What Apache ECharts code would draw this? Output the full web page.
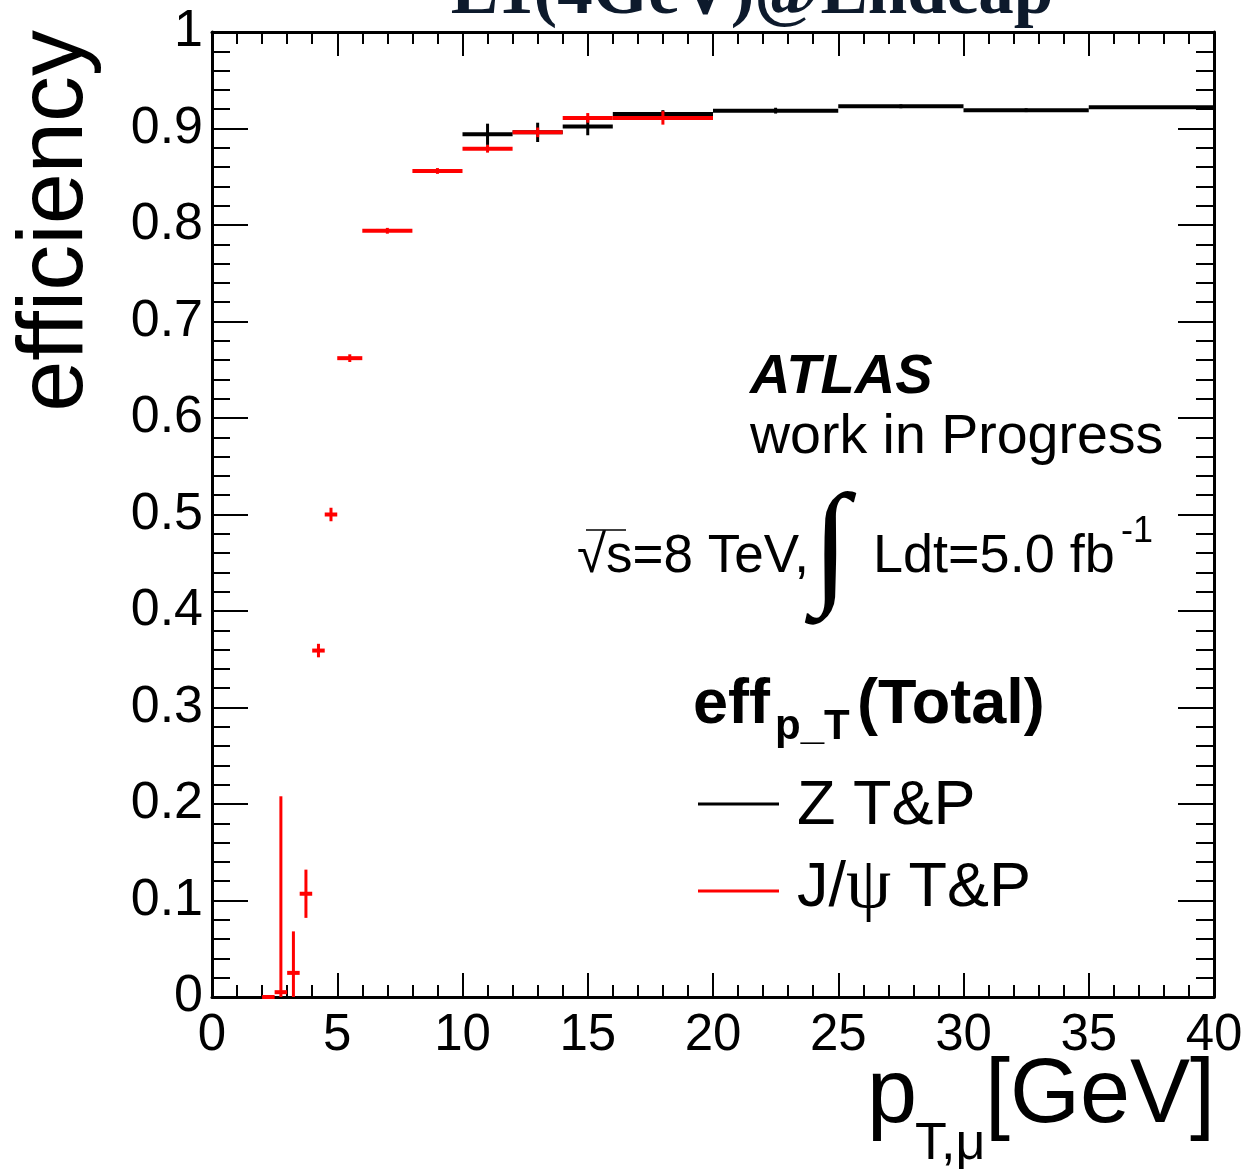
<!DOCTYPE html>
<html>
<head>
<meta charset="utf-8">
<script src="https://cdn.jsdelivr.net/npm/echarts@6/dist/echarts.min.js"></script>
<style>
html,body{margin:0;padding:0;background:#fff;}
#chart{width:1247px;height:1176px;}
</style>
</head>
<body>
<div id="chart"></div>
<script>
// ---- data ----
const xTicks = [0, 5, 10, 15, 20, 25, 30, 35, 40];
const yTicks = [0, 0.1, 0.2, 0.3, 0.4, 0.5, 0.6, 0.7, 0.8, 0.9, 1];

const zBinLo = [10, 12, 14, 16, 20, 25, 30, 35];
const zBinHi = [12, 14, 16, 20, 25, 30, 35, 40];
const zEff   = [0.894, 0.896, 0.902, 0.915, 0.9185, 0.923, 0.919, 0.922];
const zErr   = [0.011, 0.010, 0.009, 0.004, 0.003, 0.002, 0.002, 0.001];

const jBinLo = [2, 2.5, 3, 3.5, 4, 4.5, 5, 6, 8, 10, 12, 14, 16];
const jBinHi = [2.5, 3, 3.5, 4, 4.5, 5, 6, 8, 10, 12, 14, 16, 20];
const jEff   = [0.0, 0.005, 0.025, 0.107, 0.359, 0.500, 0.662, 0.794, 0.856, 0.879, 0.896, 0.911, 0.911];
const jErr   = [0.0, 0.203, 0.043, 0.025, 0.007, 0.007, 0.004, 0.003, 0.003, 0.004, 0.005, 0.005, 0.007];

const titleText = 'L1(4GeV)@Endcap';
const yTitle = 'efficiency';

// ---- helpers ----
const SANS = '"Liberation Sans", Arial, Helvetica, sans-serif';
const SERIF = '"Liberation Serif", "Times New Roman", serif';
function rows(lo, hi, v, e) { return lo.map((l, i) => [l, hi[i], v[i], e[i]]); }

function makeRender(color) {
  return function (params, api) {
    const lo = api.value(0), hi = api.value(1), v = api.value(2), e = api.value(3);
    const xc = (lo + hi) / 2;
    const a = api.coord([lo, v]), b = api.coord([hi, v]);
    const t = api.coord([xc, Math.min(1, v + e)]);
    const d = api.coord([xc, Math.max(0, v - e)]);
    const children = [
      { type: 'line', shape: { x1: a[0], y1: a[1], x2: b[0], y2: b[1] }, style: { stroke: color, lineWidth: 4 } }
    ];
    if (e > 0) {
      children.push({ type: 'line', shape: { x1: t[0], y1: t[1], x2: d[0], y2: d[1] }, style: { stroke: color, lineWidth: 3 } });
    }
    return { type: 'group', children: children };
  };
}

// text at baseline helper (verticalAlign middle -> shift by 0.3465*size)
function txt(str, x, baseline, size, opts) {
  opts = opts || {};
  return {
    type: 'text', x: x, y: baseline - 0.3465 * size, rotation: opts.rotation || 0, z: 100,
    style: {
      text: str,
      font: (opts.style || '') + ' ' + (opts.weight || 'normal') + ' ' + size + 'px ' + (opts.family || SANS),
      fill: opts.color || '#000',
      align: opts.align || 'left', textAlign: opts.align || 'left',
      verticalAlign: 'middle', textVerticalAlign: 'middle'
    }
  };
}

const chart = echarts.init(document.getElementById('chart'), null, { renderer: 'canvas' });

const tickCommon = {
  axisLine: { show: true, onZero: false, lineStyle: { color: '#000', width: 3 } },
  splitLine: { show: false },
  minorSplitLine: { show: false }
};

function xAx(pos, showLabel) {
  return Object.assign({}, tickCommon, {
    type: 'value', position: pos, min: 0, max: 40, interval: 5,
    axisTick: { show: true, inside: true, length: 24, lineStyle: { color: '#000', width: 2 } },
    minorTick: { show: true, splitNumber: 5, length: 12, lineStyle: { color: '#000', width: 2 } },
    axisLabel: { show: showLabel, fontSize: 51, fontFamily: SANS, color: '#000', margin: 13,
      formatter: function (v) { return xTicks.indexOf(v) >= 0 ? String(v) : ''; } }
  });
}
function yAx(pos, showLabel) {
  return Object.assign({}, tickCommon, {
    type: 'value', position: pos, min: 0, max: 1, interval: 0.1,
    axisTick: { show: true, inside: true, length: 36, lineStyle: { color: '#000', width: 2 } },
    minorTick: { show: true, splitNumber: 5, length: 18, lineStyle: { color: '#000', width: 2 } },
    axisLabel: { show: showLabel, fontSize: 52, fontFamily: SANS, color: '#000', margin: 9,
      formatter: function (v) {
        const r = Math.round(v * 10) / 10;
        const i = yTicks.findIndex(t => Math.abs(t - r) < 1e-9);
        if (i < 0) return '';
        return (r === 0 || r === 1) ? String(r) : r.toFixed(1);
      } }
  });
}

const option = {
  backgroundColor: '#fff',
  animation: false,
  grid: { left: 212, right: 33, top: 32, bottom: 179, containLabel: false },
  xAxis: [xAx('bottom', true), xAx('top', false)],
  yAxis: [yAx('left', true), yAx('right', false)],
  series: [
    {
      name: 'Z T&P', type: 'custom', xAxisIndex: 0, yAxisIndex: 0, z: 5,
      renderItem: makeRender('#000000'),
      encode: { x: [0, 1], y: 2 },
      data: rows(zBinLo, zBinHi, zEff, zErr)
    },
    {
      name: 'J/ψ T&P', type: 'custom', xAxisIndex: 0, yAxisIndex: 0, z: 6,
      renderItem: makeRender('#ff0000'),
      encode: { x: [0, 1], y: 2 },
      data: rows(jBinLo, jBinHi, jEff, jErr)
    }
  ],
  graphic: [
    // title (partly cut off at the top)
    txt(titleText, 752, 19, 71, { weight: 'bold', family: SERIF, color: '#0d1a2c', align: 'center' }),
    // y axis title
    {
      type: 'text', x: 89 - 0.3465 * 92, y: 30, rotation: Math.PI / 2, z: 100,
      style: { text: yTitle, font: 'normal 92px ' + SANS, fill: '#000',
        align: 'right', textAlign: 'right', verticalAlign: 'middle', textVerticalAlign: 'middle' }
    },
    // x axis title
    txt('p', 867, 1128, 90),
    txt('T,μ', 915, 1163, 52),
    txt('[GeV]', 1215, 1128, 90, { align: 'right' }),
    // ATLAS label
    txt('ATLAS', 750, 397, 56, { weight: 'bold', style: 'italic' }),
    txt('work in Progress', 750, 457, 55.5),
    // lumi
    txt('√s=8 TeV,', 577, 576, 53),
    { type: 'line', z: 100, shape: { x1: 586, y1: 530, x2: 626, y2: 530 }, style: { stroke: '#000', lineWidth: 1.5 } },
    txt('∫', 812, 600, 136, { family: SERIF, weight: 'bold' }),
    txt('Ldt=5.0 fb', 873, 576, 54),
    txt('-1', 1121, 545, 36),
    // eff label
    txt('eff', 693, 727, 63, { weight: 'bold' }),
    txt('p_T', 775, 742, 42, { weight: 'bold' }),
    txt('(Total)', 857, 727, 63, { weight: 'bold' }),
    // legend
    { type: 'line', z: 100, shape: { x1: 698, y1: 804, x2: 779, y2: 804 }, style: { stroke: '#000', lineWidth: 3 } },
    txt('Z T&P', 797, 828, 63),
    { type: 'line', z: 100, shape: { x1: 698, y1: 891, x2: 779, y2: 891 }, style: { stroke: '#ff0000', lineWidth: 3 } },
    {
      type: 'text', x: 797, y: 910 - 0.3465 * 63, z: 100,
      style: {
        text: '{a|J/}{b|ψ}{a| T&P}',
        rich: {
          a: { fontSize: 63, fontFamily: SANS, fill: '#000', color: '#000' },
          b: { fontSize: 72, fontFamily: SERIF, fill: '#000', color: '#000' }
        },
        font: 'normal 63px ' + SANS,
        align: 'left', textAlign: 'left', verticalAlign: 'middle', textVerticalAlign: 'middle'
      }
    }
  ]
};
chart.setOption(option);
</script>
</body>
</html>
